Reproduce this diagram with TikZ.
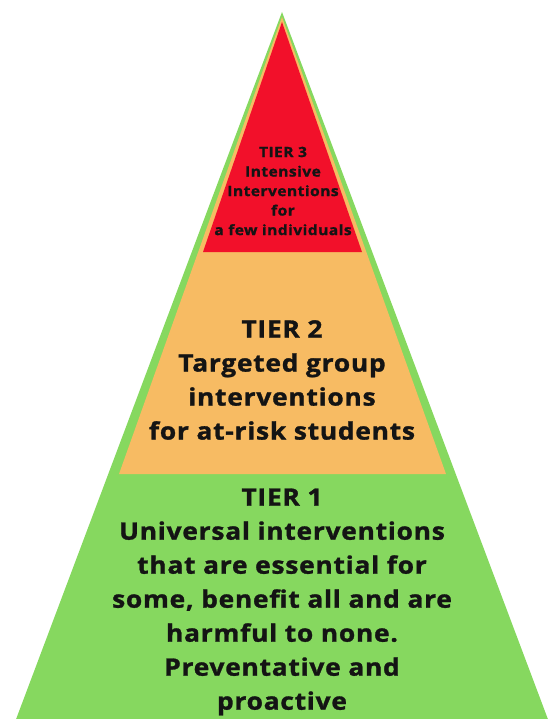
\documentclass[tikz,border=0pt]{standalone}
\usepackage{fontspec}
\setmainfont{Open Sans}
\newfontfamily\pyrfont{Open Sans}[FakeStretch=1.1,LetterSpace=3,FakeBold=1.2]
\definecolor{tgreen}{HTML}{86D85F}
\definecolor{torange}{HTML}{F7BB63}
\definecolor{tred}{HTML}{F2102A}
\begin{document}
\begin{tikzpicture}[x=1pt,y=-1pt,
  bigtxt/.style={align=center,font=\pyrfont\fontsize{24}{34}\selectfont\bfseries,text=black!92,inner sep=0pt},
  smalltxt/.style={align=center,font=\pyrfont\fontsize{14.2}{19.5}\selectfont\bfseries,text=black!92,inner sep=0pt}]
\useasboundingbox (0,0) rectangle (555,719);
\begin{scope}
\clip (0,0) rectangle (555,719);
\fill[tgreen] (282,12) -- (552,730) -- (12,730) -- cycle;
\end{scope}
\fill[torange] (282,17) -- (446,474) -- (119,474) -- cycle;
\fill[tred] (282,22) -- (362,252) -- (203,252) -- cycle;
\node[smalltxt] (t3) at (283,191) {TIER 3\\Intensive\\Interventions\\for\\a few individuals};
\node[bigtxt] (t2) at (282,380) {TIER 2\\Targeted group\\interventions\\for at-risk students};
\node[bigtxt] (t1) at (282,602) {TIER 1\\Universal interventions\\that are essential for\\some, benefit all and are\\harmful to none.\\Preventative and\\proactive};
\end{tikzpicture}
\end{document}
